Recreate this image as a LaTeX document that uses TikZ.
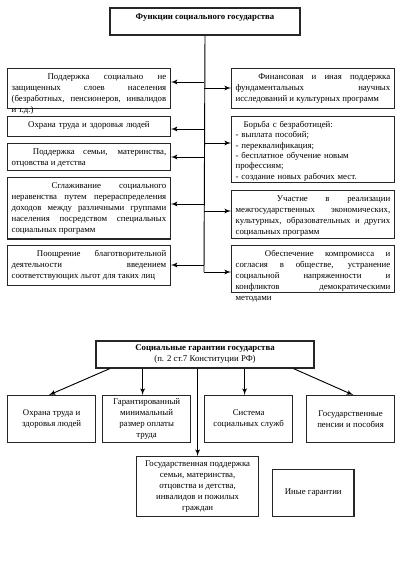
\documentclass[tikz,border=0pt]{standalone}
\usepackage{fontspec}
\setmainfont{Liberation Serif}
\usetikzlibrary{arrows}

\begin{document}
\begin{tikzpicture}[x=0.75pt,y=-0.75pt]
    \tikzset{font=\fontsize{6.6}{8.2}\selectfont}
    \tikzset{fbox/.style = {draw=black!85,line width=0.9pt,anchor=north west,
        text width=116pt,align=justify,inner xsep=3pt,inner ysep=2.5pt,
        text height=5.5pt,text depth=#1}}
    \tikzset{head/.style = {draw=black!85,line width=1.5pt,align=center}}
    \tikzset{gbox/.style = {draw=black!85,line width=0.9pt,anchor=north west,
        align=center,inner sep=0pt}}
    \tikzset{edge/.style = {->,> = latex',line width=0.7pt}}
    \useasboundingbox (0,0) rectangle (401,578);
    % functions
    \node[head,anchor=north west,minimum width=142.5pt,text height=6pt,text depth=9pt,
        inner ysep=2.5pt] (t) at (109,7) {\bfseries Функции социального государства};
    \node[fbox=19.5pt] (l1) at (7,68) {\hspace*{27pt}Поддержка социально не\linebreak
        защищенных слоев населения\linebreak (безработных, пенсионеров, инвалидов\linebreak и т.д.)};
    \node[fbox=4.5pt,align=center] (l2) at (7,116) {Охрана труда и здоровья людей};
    \node[fbox=9.5pt] (l3) at (7,143) {\hspace*{16pt}Поддержка семьи, материнства,\linebreak
        отцовства и детства};
    \node[fbox=35.5pt] (l4) at (7,177) {\hspace*{30pt}Сглаживание социального\linebreak
        неравенства путем перераспределения\linebreak доходов между различными группами\linebreak
        населения посредством специальных\linebreak социальных программ};
    \node[fbox=19.5pt] (l5) at (7,245) {\hspace*{19pt}Поощрение благотворительной\linebreak
        деятельности введением\linebreak \mbox{соответствующих льгот для таких лиц}};
    \node[fbox=19.5pt] (r1) at (231,68) {\hspace*{17pt}Финансовая и иная поддержка\linebreak
        фундаментальных научных\linebreak исследований и культурных программ};
    \node[fbox=39pt,align=left,font=\fontsize{6.6}{7.8}\selectfont] (r2) at (231,116)
        {\hspace*{6pt}Борьба с безработицей:\\
        - выплата пособий;\\- переквалификация;\\- бесплатное обучение новым\\
        профессиям;\\- создание новых рабочих мест.};
    \node[fbox=25.5pt] (r3) at (231,190) {\hspace*{31pt}Участие в реализации\linebreak
        межгосударственных экономических,\linebreak культурных, образовательных и других\linebreak
        социальных программ};
    \node[fbox=24.5pt] (r4) at (231,245) {\hspace*{22pt}Обеспечение компромисса и\linebreak
        согласия в обществе, устранение\linebreak социальной напряженности и\linebreak
        конфликтов демократическими\linebreak методами};
    % trunk
    \coordinate (tend) at (204,272);
    \draw[line width=0.7pt] (t.south) -- (tend);
    \foreach \b/\y in {l1/82,l2/129,l3/157,l4/204,l5/265}{
        \coordinate (s) at (204,\y);
        \draw[edge] (s) -- (s -| \b.east);
    }
    \foreach \b/\y in {r1/88,r2/143,r3/211,r4/272}{
        \coordinate (s) at (204,\y);
        \draw[edge] (s) -- (s -| \b.west);
    }

    % guarantees
    \node[head,anchor=north west,minimum width=163.5pt,minimum height=20pt,inner sep=1pt] (g) at (95,340)
        {\bfseries Социальные гарантии государства\\(п. 2 ст.7 Конституции РФ)};
    \node[gbox,minimum width=66pt,minimum height=35pt] (A) at (7,395) {Охрана труда и\\здоровья людей};
    \node[gbox,minimum width=66pt,minimum height=35pt] (B) at (102,395) {Гарантированный\\минимальный\\размер оплаты\\труда};
    \node[gbox,minimum width=66pt,minimum height=35pt] (C) at (204,395) {Система\\социальных служб};
    \node[gbox,minimum width=66pt,minimum height=35pt] (D) at (306,395) {Государственные\\пенсии и пособия};
    \node[gbox,minimum width=91.5pt,minimum height=45pt] (E) at (136,456) {Государственная поддержка\\
        семьи, материнства,\\отцовства и детства,\\инвалидов и пожилых\\граждан};
    \node[gbox,minimum width=61pt,minimum height=35pt] (F) at (272,469) {Иные гарантии};
    % arrows
    \draw[edge] ([xshift=11pt]g.south west) -- ([xshift=-2pt]A.north);
    \draw[edge] ([xshift=-3pt]B.north |- g.south) -- ([xshift=-3pt]B.north);
    \draw[edge] (E.north |- g.south) -- (E.north);
    \draw[edge] ([xshift=-3pt]C.north |- g.south) -- ([xshift=-3pt]C.north);
    \draw[edge] ([xshift=-16pt]g.south east) -- ([xshift=2pt]D.north);
\end{tikzpicture}
\end{document}
